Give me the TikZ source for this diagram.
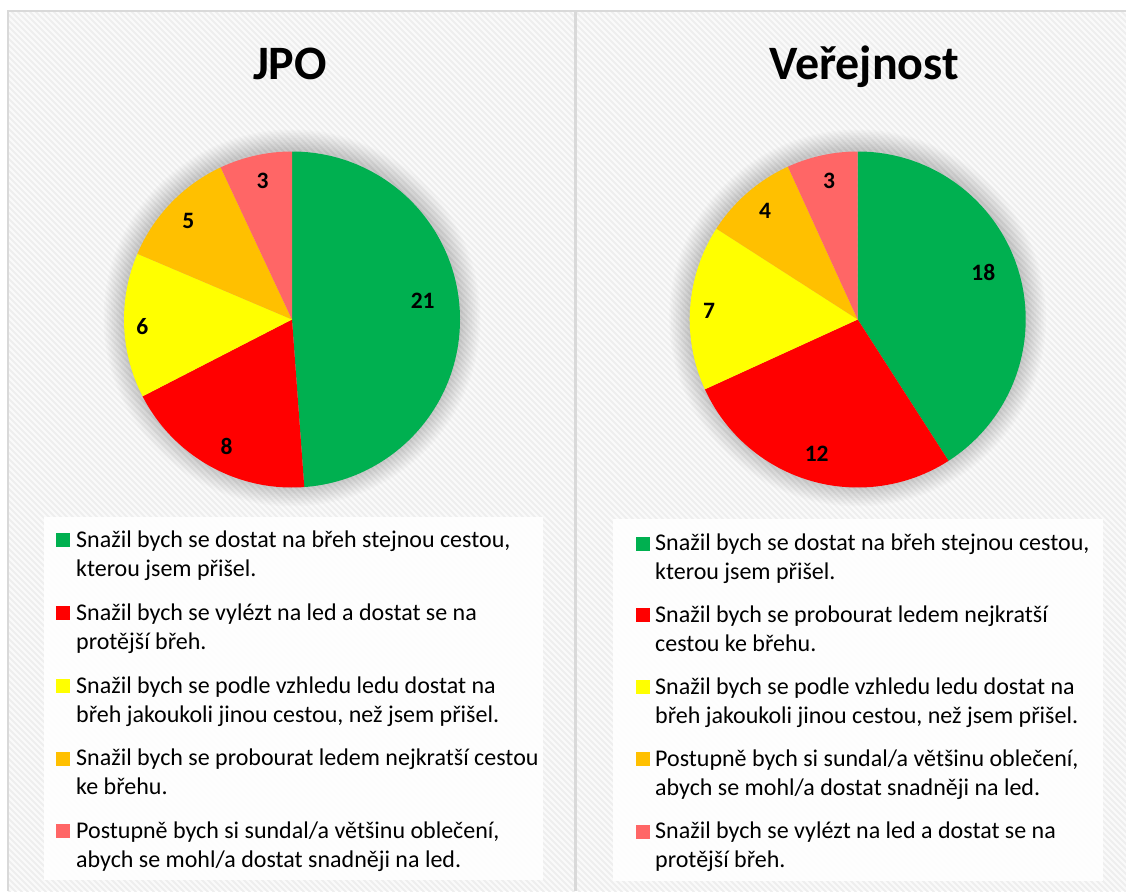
\documentclass[tikz,border=0pt]{standalone}
\usepackage{fontspec}
\setmainfont{Carlito}
\definecolor{slgreen}{HTML}{00B050}
\definecolor{slred}{HTML}{FF0000}
\definecolor{slyellow}{HTML}{FFFF00}
\definecolor{slorange}{HTML}{FFC000}
\definecolor{slpink}{HTML}{FF6666}
\definecolor{panelbg}{HTML}{FAFAFA}
\definecolor{stripecol}{HTML}{EEEEEE}
\definecolor{framecol}{HTML}{D9D9D9}

\tikzset{
  stripe/.style={stripecol, line width=2pt},
  frameline/.style={framecol, line width=1.5pt},
  title/.style={anchor=base, inner sep=0pt, font=\bfseries\fontsize{48}{56}\selectfont},
  value/.style={anchor=center, inner sep=0pt, font=\bfseries\fontsize{23.5}{28}\selectfont},
  legtext/.style={anchor=base west, inner sep=0pt, font=\fontsize{24}{29}\selectfont},
  legmark/.style={anchor=south west, inner sep=0pt, minimum size=14pt, fill=#1},
  legbox/.style={fill=white, opacity=0.92},
}

% one slice: centre x, centre y, start angle, end angle, colour
\newcommand\pieslice[5]{%
  \fill[#5] (#1,#2) -- ++(#3:168) arc[start angle=#3, end angle=#4, radius=168] -- cycle;}
% soft halo behind a pie
\newcommand\piehalo[2]{%
  \foreach \i in {1,...,12}
    \fill[black, opacity=0.014] (#1,#2) circle[radius={168+1.7*\i}];}
% legend entry: name, marker x, text x, baseline y, colour, first line, second line
\newcommand\legentry[7]{%
  \node[legmark=#5] (#1m) at (#2,#4) {};
  \node[legtext] (#1a) at (#3,#4) {#6};
  \node[legtext] (#1b) at (#3,#4+29) {#7};}

\begin{document}
\begin{tikzpicture}[x=1pt, y=-1pt]
\useasboundingbox (0,0) rectangle (1126,891);
\fill[white] (0,0) rectangle (1126,891);

% hatched panel background
\fill[panelbg] (8,11) rectangle (1126,891);
\begin{scope}
  \clip (8,11) rectangle (1126,891);
  \foreach \k in {-900,-894,...,1130}
    \draw[stripe] (\k,0) -- ++(900,900);
\end{scope}
\draw[frameline] (8,891) -- (8,11) -- (1126,11);
\draw[framecol, line width=3pt] (575.5,11) -- (575.5,891);

% titles
\node[title] (t1) at (290,79) {JPO};
\node[title] (t2) at (864,79) {Veřejnost};

% left pie: 21, 8, 6, 5, 3 of 43
\piehalo{292}{318}
\pieslice{292}{319.5}{-90}{85.81}{slgreen}
\pieslice{292}{319.5}{85.81}{152.79}{slred}
\pieslice{292}{319.5}{152.79}{203.02}{slyellow}
\pieslice{292}{319.5}{203.02}{244.88}{slorange}
\pieslice{292}{319.5}{244.88}{270}{slpink}
\node[value] (a1) at (422.7,300.7) {21};
\node[value] (a2) at (226.7,446.7) {8};
\node[value] (a3) at (142.3,326.7) {6};
\node[value] (a4) at (188.3,220.7) {5};
\node[value] (a5) at (262.7,180.7) {3};

% right pie: 18, 12, 7, 4, 3 of 44
\piehalo{857.7}{318}
\pieslice{857.7}{319.5}{-90}{57.27}{slgreen}
\pieslice{857.7}{319.5}{57.27}{155.45}{slred}
\pieslice{857.7}{319.5}{155.45}{212.73}{slyellow}
\pieslice{857.7}{319.5}{212.73}{245.45}{slorange}
\pieslice{857.7}{319.5}{245.45}{270}{slpink}
\node[value] (b1) at (983.3,272.7) {18};
\node[value] (b2) at (816.7,454) {12};
\node[value] (b3) at (709,311) {7};
\node[value] (b4) at (765,211) {4};
\node[value] (b5) at (829,180.7) {3};

% left legend
\fill[legbox] (44,517) rectangle (543,880);
\legentry{la}{56}{76}{547.5}{slgreen}{Snažil bych se dostat na břeh stejnou cestou,}{kterou jsem přišel.}
\legentry{lb}{56}{76}{620.2}{slred}{Snažil bych se vylézt na led a dostat se na}{protější břeh.}
\legentry{lc}{56}{76}{693}{slyellow}{Snažil bych se podle vzhledu ledu dostat na}{břeh jakoukoli jinou cestou, než jsem přišel.}
\legentry{ld}{56}{76}{765.7}{slorange}{Snažil bych se probourat ledem nejkratší cestou}{ke břehu.}
\legentry{le}{56}{76}{838.5}{slpink}{Postupně bych si sundal/a většinu oblečení,}{abych se mohl/a dostat snadněji na led.}

% right legend
\fill[legbox] (613,519) rectangle (1103,881);
\legentry{ra}{636}{655}{550.7}{slgreen}{Snažil bych se dostat na břeh stejnou cestou,}{kterou jsem přišel.}
\legentry{rb}{636}{655}{622.5}{slred}{Snažil bych se probourat ledem nejkratší}{cestou ke břehu.}
\legentry{rc}{636}{655}{694.6}{slyellow}{Snažil bych se podle vzhledu ledu dostat na}{břeh jakoukoli jinou cestou, než jsem přišel.}
\legentry{rd}{636}{655}{766.5}{slorange}{Postupně bych si sundal/a většinu oblečení,}{abych se mohl/a dostat snadněji na led.}
\legentry{re}{636}{655}{838.8}{slpink}{Snažil bych se vylézt na led a dostat se na}{protější břeh.}
\end{tikzpicture}
\end{document}
